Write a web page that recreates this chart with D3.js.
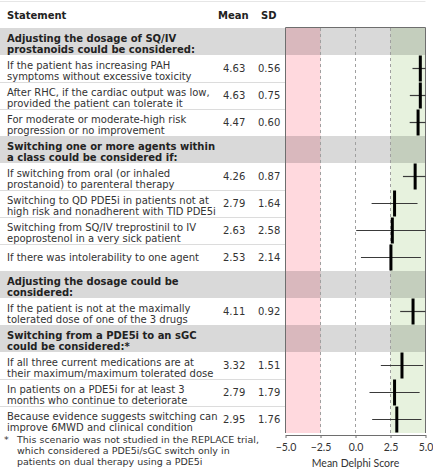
<!DOCTYPE html>
<html><head><meta charset="utf-8">
<script src="https://cdn.jsdelivr.net/npm/d3@7"></script>
<style>body{margin:0;background:#fff}svg{display:block}</style>
</head><body>
<svg id="c" width="433" height="470"></svg>
<script>
// ---- data ----
const rowKinds = ["h","d","d","d","h","d","d","d","d","h","d","h","d","d","d"];
const rowLabels = [
  "Adjusting the dosage of SQ/IV|prostanoids could be considered:",
  "If the patient has increasing PAH|symptoms without excessive toxicity",
  "After RHC, if the cardiac output was low,|provided the patient can tolerate it",
  "For moderate or moderate-high risk|progression or no improvement",
  "Switching one or more agents within|a class could be considered if:",
  "If switching from oral (or inhaled|prostanoid) to parenteral therapy",
  "Switching to QD PDE5i in patients not at|high risk and nonadherent with TID PDE5i",
  "Switching from SQ/IV treprostinil to IV|epoprostenol in a very sick patient",
  "If there was intolerability to one agent",
  "Adjusting the dosage could be|considered:",
  "If the patient is not at the maximally|tolerated dose of one of the 3 drugs",
  "Switching from a PDE5i to an sGC|could be considered:*",
  "If all three current medications are at|their maximum/maximum tolerated dose",
  "In patients on a PDE5i for at least 3|months who continue to deteriorate",
  "Because evidence suggests switching can|improve 6MWD and clinical condition"
];
const means = [null,4.63,4.63,4.47,null,4.26,2.79,2.63,2.53,null,4.11,null,3.32,2.79,2.95];
const sds   = [null,0.56,0.75,0.60,null,0.87,1.64,2.58,2.14,null,0.92,null,1.51,1.79,1.76];
const xTicks = [-5.0,-2.5,0.0,2.5,5.0];
const zones = [{from:-5,to:-2.5,color:"#ffd9de"},{from:2.5,to:5,color:"#e7f2de"}];
const footnote = ["This scenario was not studied in the REPLACE trial,","which considered a PDE5i/sGC switch only in","patients on dual therapy using a PDE5i"];

// ---- layout ----
const svg = d3.select("#c");
const x = d3.scaleLinear().domain([-5,5]).range([285.5,425.5]);
const y = d3.scaleLinear().domain([0,rowKinds.length]).range([28,433]);
const rowH = y(1)-y(0);
const tableFont = "'DejaVu Sans', Verdana, sans-serif";

// zones
svg.selectAll("rect.zone").data(zones).join("rect")
  .attr("x",d=>x(d.from)).attr("width",d=>x(d.to)-x(d.from))
  .attr("y",y(0)).attr("height",y(rowKinds.length)-y(0)).attr("fill",d=>d.color);

// header bands
const idx = d3.range(rowKinds.length);
svg.selectAll("rect.hdr").data(idx.filter(i=>rowKinds[i]==="h")).join("rect")
  .attr("x",0).attr("width",x(5)).attr("y",i=>y(i)).attr("height",rowH)
  .attr("fill","#000").attr("fill-opacity",0.15);

// row separators (table area)
svg.selectAll("line.sep").data(idx.filter(i=>i>0 && rowKinds[i]==="d" && rowKinds[i-1]==="d")).join("line")
  .attr("x1",0).attr("x2",x(-5)).attr("y1",i=>y(i)+0.5).attr("y2",i=>y(i)+0.5)
  .attr("stroke","#dcdcdc").attr("stroke-width",1);

// top rule
svg.append("line").attr("x1",0).attr("x2",x(5)).attr("y1",1.5).attr("y2",1.5).attr("stroke","#e6e6e6");

// dashed gridlines
svg.selectAll("line.grid").data([-2.5,0,2.5]).join("line")
  .attr("x1",d=>x(d)).attr("x2",d=>x(d)).attr("y1",y(0)).attr("y2",y(rowKinds.length))
  .attr("stroke","#a0a0a0").attr("stroke-dasharray","3,3").attr("stroke-width",1);

// plot frame
svg.append("path").attr("d",`M${x(-5)},${y(rowKinds.length)}V${y(0)-0.5}H${x(5)}V${y(rowKinds.length)}`)
  .attr("fill","none").attr("stroke","#6e6e6e").attr("stroke-width",1);

// column headers
const hdr = svg.append("g").attr("font-family",tableFont).attr("font-weight","bold").attr("font-size","10px").attr("fill","#222");
hdr.append("text").attr("x",7).attr("y",18.5).text("Statement");
hdr.append("text").attr("x",218).attr("y",18.5).text("Mean");
hdr.append("text").attr("x",261).attr("y",18.5).text("SD");

// row labels
const lab = svg.append("g").attr("font-family",tableFont).attr("font-size","10px").attr("fill","#333");
idx.forEach(i=>{
  const lines = rowLabels[i].split("|");
  const t = lab.append("text").attr("x",7)
    .attr("font-weight",rowKinds[i]==="h"?"bold":"normal")
    .attr("fill",rowKinds[i]==="h"?"#222":"#333");
  const base = lines.length===1 ? y(i)+rowH/2+3.5 : y(i)+13.5;
  lines.forEach((l,k)=>t.append("tspan").attr("x",7).attr("y",base+k*11).text(l));
});

// mean / sd values
const dataIdx = idx.filter(i=>rowKinds[i]==="d");
lab.selectAll("text.mean").data(dataIdx).join("text")
  .attr("x",223).attr("y",i=>y(i)+rowH/2+3.5).text(i=>means[i].toFixed(2));
lab.selectAll("text.sd").data(dataIdx).join("text")
  .attr("x",258).attr("y",i=>y(i)+rowH/2+3.5).text(i=>sds[i].toFixed(2));

// SD whiskers
const cl = v=>Math.max(-5,Math.min(5,v));
svg.selectAll("line.sdl").data(dataIdx).join("line")
  .attr("x1",i=>x(cl(means[i]-sds[i]))).attr("x2",i=>x(cl(means[i]+sds[i])))
  .attr("y1",i=>y(i)+rowH/2).attr("y2",i=>y(i)+rowH/2)
  .attr("stroke","#3a3a3a").attr("stroke-width",1.2);
// mean bars
svg.selectAll("rect.mb").data(dataIdx).join("rect")
  .attr("x",i=>x(means[i])-1.5).attr("width",3)
  .attr("y",i=>y(i)+0.5).attr("height",rowH-1).attr("fill","#000");

// axis
const ax = svg.append("g").attr("transform",`translate(0,${y(rowKinds.length)+2})`)
  .call(d3.axisBottom(x).tickValues(xTicks).tickFormat(d3.format(".1f")).tickSize(3).tickSizeOuter(0));
ax.select(".domain").attr("stroke","#6e6e6e");
ax.selectAll(".tick line").attr("stroke","#6e6e6e");
ax.selectAll("text").attr("font-family","Lato, 'Open Sans', sans-serif").attr("font-size","10.5px").attr("fill","#333").attr("dy","0.95em");
svg.append("text").attr("x",(x(-5)+x(5))/2).attr("y",467).attr("text-anchor","middle")
  .attr("font-family","Lato, 'Open Sans', sans-serif").attr("font-size","10.5px").attr("fill","#333").text("Mean Delphi Score");

// footnote
const fn = svg.append("g").attr("font-family",tableFont).attr("font-size","9.5px").attr("fill","#333");
fn.append("text").attr("x",4).attr("y",443).text("*");
footnote.forEach((l,k)=>fn.append("text").attr("x",17).attr("y",443+k*11).text(l));
</script>
</body></html>
